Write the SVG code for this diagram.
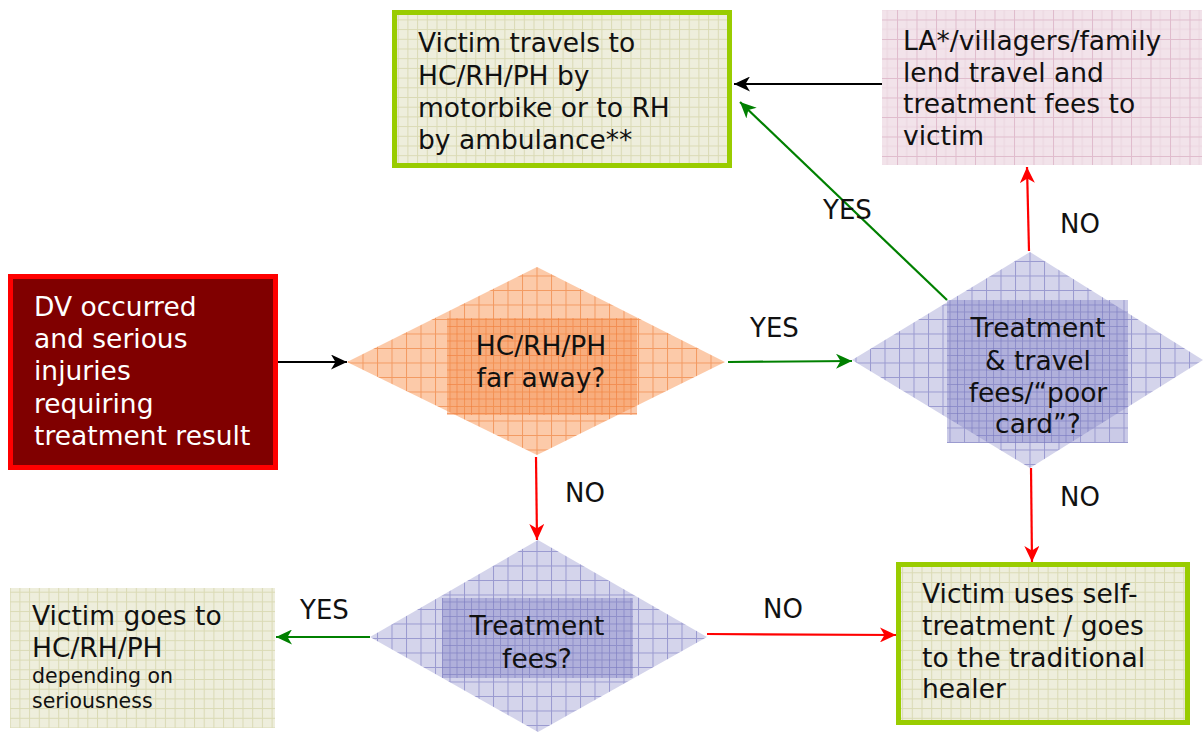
<svg xmlns="http://www.w3.org/2000/svg" width="1204" height="733" viewBox="0 0 1204 733">
<defs>
<style>
text{font-family:"DejaVu Sans","Verdana",sans-serif;font-size:26.5px;fill:#111}
.w{fill:#fff}
.s{font-size:20.5px}
.c{text-anchor:middle}
.lbl{font-size:26px;fill:#111}
.ln{fill:none;stroke-width:2.2}
.g{stroke:#008000}
.r{stroke:#ff0000}
.k{stroke:#000}
</style>
<pattern id="pBeige" width="9.7" height="9.7" patternUnits="userSpaceOnUse">
<rect width="9.7" height="9.7" fill="#eeeedc"/>
<path d="M0 0.5H9.7M0.5 0V9.7" stroke="#dadab4" stroke-width="1"/>
</pattern>
<pattern id="pPink" width="19.5" height="19.5" patternUnits="userSpaceOnUse">
<rect width="19.5" height="19.5" fill="#f2e3ea"/>
<path d="M0 9.75H19.5M9.75 0V19.5" stroke="#ecd6e0" stroke-width="1"/>
<path d="M0 0.5H19.5M0.5 0V19.5" stroke="#e0bccd" stroke-width="1"/>
</pattern>
<pattern id="pOr" width="14.5" height="14.5" patternUnits="userSpaceOnUse">
<rect width="14.5" height="14.5" fill="#fccaa9"/>
<path d="M0 0.5H14.5M0.5 0V14.5" stroke="#f39a62" stroke-width="1"/>
</pattern>
<pattern id="pOrIn" x="7" y="7" width="14.5" height="14.5" patternUnits="userSpaceOnUse">
<path d="M0 0.5H14.5M0.5 0V14.5" stroke="#f07a38" stroke-width="1"/>
</pattern>
<pattern id="pBl" width="14.5" height="14.5" patternUnits="userSpaceOnUse">
<rect width="14.5" height="14.5" fill="#d4d4eb"/>
<path d="M0 0.5H14.5M0.5 0V14.5" stroke="#9a9ad0" stroke-width="1"/>
</pattern>
<pattern id="pBlIn" x="7" y="7" width="14.5" height="14.5" patternUnits="userSpaceOnUse">
<path d="M0 0.5H14.5M0.5 0V14.5" stroke="#7a7abe" stroke-width="1"/>
</pattern>
<marker id="aG" markerUnits="userSpaceOnUse" markerWidth="17" markerHeight="15" refX="16" refY="7.5" orient="auto"><path d="M0,0 L16,7.5 L0,15 L4.5,7.5 z" fill="#008000"/></marker>
<marker id="aR" markerUnits="userSpaceOnUse" markerWidth="17" markerHeight="15" refX="16" refY="7.5" orient="auto"><path d="M0,0 L16,7.5 L0,15 L4.5,7.5 z" fill="#ff0000"/></marker>
<marker id="aK" markerUnits="userSpaceOnUse" markerWidth="17" markerHeight="15" refX="16" refY="7.5" orient="auto"><path d="M0,0 L16,7.5 L0,15 L4.5,7.5 z" fill="#000"/></marker>
</defs>
<rect width="1204" height="733" fill="#fff"/>

<g id="connectors">
<line class="ln k" x1="278" y1="362" x2="347" y2="362" marker-end="url(#aK)"/>
<line class="ln g" x1="728" y1="362" x2="852" y2="361" marker-end="url(#aG)"/>
<line class="ln r" x1="536" y1="457" x2="537" y2="540" marker-end="url(#aR)"/>
<line class="ln r" x1="1029" y1="251" x2="1027" y2="167" marker-end="url(#aR)"/>
<line class="ln g" x1="947" y1="300" x2="740" y2="102" marker-end="url(#aG)"/>
<line class="ln k" x1="883" y1="84" x2="734" y2="84" marker-end="url(#aK)"/>
<line class="ln r" x1="1031" y1="468" x2="1032" y2="562" marker-end="url(#aR)"/>
<line class="ln g" x1="370" y1="637" x2="276" y2="637" marker-end="url(#aG)"/>
<line class="ln r" x1="707" y1="634" x2="896" y2="635" marker-end="url(#aR)"/>
<text class="lbl" x="750" y="337">YES</text>
<text class="lbl" x="823" y="219">YES</text>
<text class="lbl" x="1060" y="233">NO</text>
<text class="lbl" x="565" y="502">NO</text>
<text class="lbl" x="1060" y="506">NO</text>
<text class="lbl" x="300" y="619">YES</text>
<text class="lbl" x="763" y="618">NO</text>
</g>

<g id="travels">
<rect x="394.5" y="12.5" width="335" height="153" fill="url(#pBeige)" stroke="#99cc00" stroke-width="5"/>
<text x="418" y="52">Victim travels to</text>
<text x="418" y="85">HC/RH/PH by</text>
<text x="418" y="117">motorbike or to RH</text>
<text x="418" y="149">by ambulance**</text>
</g>

<g id="lend">
<rect x="882" y="10" width="320" height="155" fill="url(#pPink)"/>
<text x="903" y="50">LA*/villagers/family</text>
<text x="903" y="82">lend travel and</text>
<text x="903" y="113">treatment fees to</text>
<text x="903" y="145">victim</text>
</g>

<g id="dv">
<rect x="10.5" y="276.5" width="265" height="191" fill="#800000" stroke="#ff0000" stroke-width="5"/>
<text class="w" x="34" y="316">DV occurred</text>
<text class="w" x="34" y="348">and serious</text>
<text class="w" x="34" y="380">injuries</text>
<text class="w" x="34" y="413">requiring</text>
<text class="w" x="34" y="445">treatment result</text>
</g>

<g id="faraway">
<polygon points="537,267 725,362 537,455 347,362" fill="url(#pOr)"/>
<rect x="447" y="318" width="190" height="97" fill="#f58a48" fill-opacity="0.45"/>
<rect x="447" y="318" width="190" height="97" fill="url(#pOrIn)" opacity="0.6"/>
<text class="c" x="541" y="355">HC/RH/PH</text>
<text class="c" x="541" y="387">far away?</text>
</g>

<g id="fees_card">
<polygon points="1030,252 1203,360 1030,468 852,360" fill="url(#pBl)"/>
<rect x="947" y="300" width="181" height="143" fill="#7b7bc2" fill-opacity="0.4"/>
<rect x="947" y="300" width="181" height="143" fill="url(#pBlIn)" opacity="0.6"/>
<text class="c" x="1038" y="337">Treatment</text>
<text class="c" x="1038" y="370">&amp; travel</text>
<text class="c" x="1038" y="402">fees/“poor</text>
<text class="c" x="1038" y="433">card”?</text>
</g>

<g id="fees">
<polygon points="538,540 707,637 538,732 370,637" fill="url(#pBl)"/>
<rect x="442" y="598" width="191" height="80" fill="#7b7bc2" fill-opacity="0.4"/>
<rect x="442" y="598" width="191" height="80" fill="url(#pBlIn)" opacity="0.6"/>
<text class="c" x="537" y="635">Treatment</text>
<text class="c" x="537" y="668">fees?</text>
</g>

<g id="goes">
<rect x="10" y="588" width="265" height="140" fill="url(#pBeige)"/>
<text x="32" y="625">Victim goes to</text>
<text x="32" y="657">HC/RH/PH</text>
<text class="s" x="32" y="683">depending on</text>
<text class="s" x="32" y="708">seriousness</text>
</g>

<g id="self">
<rect x="898.5" y="564.5" width="289" height="158" fill="url(#pBeige)" stroke="#99cc00" stroke-width="5"/>
<text x="922" y="603">Victim uses self-</text>
<text x="922" y="635">treatment / goes</text>
<text x="922" y="667">to the traditional</text>
<text x="922" y="698">healer</text>
</g>
</svg>
